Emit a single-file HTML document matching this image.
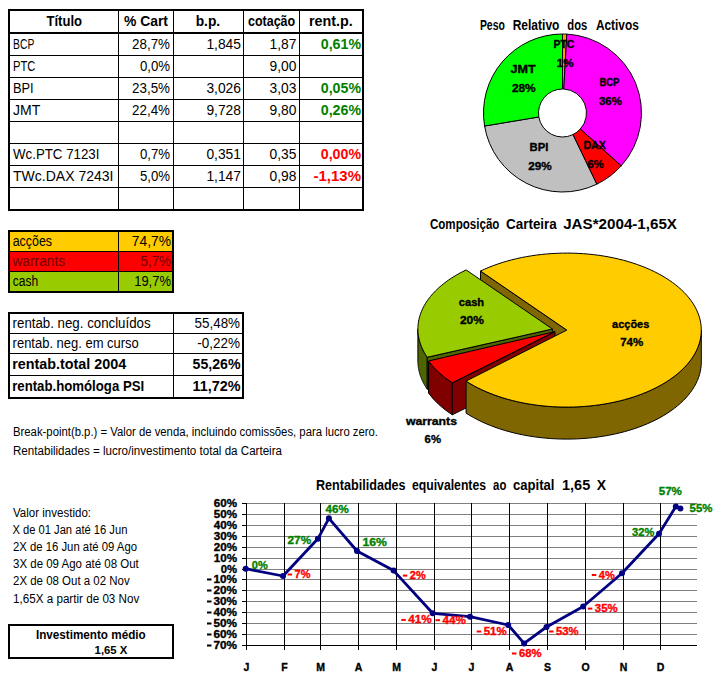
<!DOCTYPE html>
<html><head><meta charset="utf-8"><title>Carteira</title>
<style>
html,body{margin:0;padding:0;background:#fff;}
body{width:725px;height:677px;overflow:hidden;font-family:"Liberation Sans",sans-serif;}
svg{display:block;font-family:"Liberation Sans",sans-serif;}
</style></head><body>
<svg width="725" height="677" viewBox="0 0 725 677">
<rect width="725" height="677" fill="#fff"/>
<g shape-rendering="crispEdges">
<rect x="8" y="9" width="356" height="2" fill="#000"/>
<rect x="8" y="209" width="356" height="2" fill="#000"/>
<rect x="8" y="9" width="2" height="202" fill="#000"/>
<rect x="362" y="9" width="2" height="202" fill="#000"/>
<rect x="8" y="32" width="356" height="2" fill="#000"/>
<rect x="8" y="55" width="356" height="1" fill="#000"/>
<rect x="8" y="77" width="356" height="1" fill="#000"/>
<rect x="8" y="99" width="356" height="1" fill="#000"/>
<rect x="8" y="121" width="356" height="1" fill="#000"/>
<rect x="8" y="143" width="356" height="1" fill="#000"/>
<rect x="8" y="165" width="356" height="1" fill="#000"/>
<rect x="8" y="187" width="356" height="1" fill="#000"/>
<rect x="118" y="9" width="1" height="202" fill="#000"/>
<rect x="173" y="9" width="1" height="202" fill="#000"/>
<rect x="243" y="9" width="1" height="202" fill="#000"/>
<rect x="299" y="9" width="1" height="202" fill="#000"/>
</g>
<text x="46.5" y="26" font-size="14" font-weight="bold" textLength="35.5" lengthAdjust="spacingAndGlyphs">Título</text>
<text x="124" y="26" font-size="14" font-weight="bold" textLength="44" lengthAdjust="spacingAndGlyphs">% Cart</text>
<text x="195.7" y="26" font-size="14" font-weight="bold" textLength="24.5" lengthAdjust="spacingAndGlyphs">b.p.</text>
<text x="248" y="26" font-size="14" font-weight="bold" textLength="47.2" lengthAdjust="spacingAndGlyphs">cotação</text>
<text x="309" y="26" font-size="14" font-weight="bold" textLength="43.8" lengthAdjust="spacingAndGlyphs">rent.p.</text>
<text x="13" y="49" font-size="14" textLength="21.3" lengthAdjust="spacingAndGlyphs">BCP</text>
<text x="170" y="49" font-size="14" text-anchor="end" textLength="37.9" lengthAdjust="spacingAndGlyphs">28,7%</text>
<text x="241" y="49" font-size="14" text-anchor="end" textLength="34.6" lengthAdjust="spacingAndGlyphs">1,845</text>
<text x="296.5" y="49" font-size="14" text-anchor="end" textLength="26.9" lengthAdjust="spacingAndGlyphs">1,87</text>
<text x="361" y="49" font-size="14" font-weight="bold" text-anchor="end" textLength="40.2" lengthAdjust="spacingAndGlyphs" fill="#008000">0,61%</text>
<text x="13" y="71" font-size="14" textLength="22.4" lengthAdjust="spacingAndGlyphs">PTC</text>
<text x="170" y="71" font-size="14" text-anchor="end" textLength="30.1" lengthAdjust="spacingAndGlyphs">0,0%</text>
<text x="296.5" y="71" font-size="14" text-anchor="end" textLength="26.9" lengthAdjust="spacingAndGlyphs">9,00</text>
<text x="13" y="93" font-size="14" textLength="20.7" lengthAdjust="spacingAndGlyphs">BPI</text>
<text x="170" y="93" font-size="14" text-anchor="end" textLength="37.9" lengthAdjust="spacingAndGlyphs">23,5%</text>
<text x="241" y="93" font-size="14" text-anchor="end" textLength="34.6" lengthAdjust="spacingAndGlyphs">3,026</text>
<text x="296.5" y="93" font-size="14" text-anchor="end" textLength="26.9" lengthAdjust="spacingAndGlyphs">3,03</text>
<text x="361" y="93" font-size="14" font-weight="bold" text-anchor="end" textLength="40.2" lengthAdjust="spacingAndGlyphs" fill="#008000">0,05%</text>
<text x="13" y="115" font-size="14" textLength="27.3" lengthAdjust="spacingAndGlyphs">JMT</text>
<text x="170" y="115" font-size="14" text-anchor="end" textLength="37.9" lengthAdjust="spacingAndGlyphs">22,4%</text>
<text x="241" y="115" font-size="14" text-anchor="end" textLength="34.6" lengthAdjust="spacingAndGlyphs">9,728</text>
<text x="296.5" y="115" font-size="14" text-anchor="end" textLength="26.9" lengthAdjust="spacingAndGlyphs">9,80</text>
<text x="361" y="115" font-size="14" font-weight="bold" text-anchor="end" textLength="40.2" lengthAdjust="spacingAndGlyphs" fill="#008000">0,26%</text>
<text x="13" y="159" font-size="14" textLength="86.4" lengthAdjust="spacingAndGlyphs">Wc.PTC 7123I</text>
<text x="170" y="159" font-size="14" text-anchor="end" textLength="30.1" lengthAdjust="spacingAndGlyphs">0,7%</text>
<text x="241" y="159" font-size="14" text-anchor="end" textLength="34.6" lengthAdjust="spacingAndGlyphs">0,351</text>
<text x="296.5" y="159" font-size="14" text-anchor="end" textLength="26.9" lengthAdjust="spacingAndGlyphs">0,35</text>
<text x="361" y="159" font-size="14" font-weight="bold" text-anchor="end" textLength="40.2" lengthAdjust="spacingAndGlyphs" fill="#ff0000">0,00%</text>
<text x="13" y="181" font-size="14" textLength="100.5" lengthAdjust="spacingAndGlyphs">TWc.DAX 7243I</text>
<text x="170" y="181" font-size="14" text-anchor="end" textLength="30.1" lengthAdjust="spacingAndGlyphs">5,0%</text>
<text x="241" y="181" font-size="14" text-anchor="end" textLength="34.6" lengthAdjust="spacingAndGlyphs">1,147</text>
<text x="296.5" y="181" font-size="14" text-anchor="end" textLength="26.9" lengthAdjust="spacingAndGlyphs">0,98</text>
<text x="361" y="181" font-size="14" font-weight="bold" text-anchor="end" textLength="47.6" lengthAdjust="spacingAndGlyphs" fill="#ff0000">-1,13%</text>
<g shape-rendering="crispEdges">
<rect x="8" y="230" width="166" height="63" fill="#000"/>
<rect x="10" y="232" width="108" height="19" fill="#ffcc00"/>
<rect x="119" y="232" width="53" height="19" fill="#ffcc00"/>
<rect x="10" y="252" width="108" height="19" fill="#ff0000"/>
<rect x="119" y="252" width="53" height="19" fill="#ff0000"/>
<rect x="10" y="272" width="108" height="19" fill="#99cc00"/>
<rect x="119" y="272" width="53" height="19" fill="#99cc00"/>
</g>
<text x="12.7" y="246" font-size="14" textLength="39.4" lengthAdjust="spacingAndGlyphs">acções</text>
<text x="12.4" y="266" font-size="14" textLength="52.8" lengthAdjust="spacingAndGlyphs" fill="#700000">warrants</text>
<text x="12.7" y="286" font-size="14" textLength="25.5" lengthAdjust="spacingAndGlyphs">cash</text>
<text x="171" y="246" font-size="14" text-anchor="end" textLength="39.2" lengthAdjust="spacingAndGlyphs">74,7%</text>
<text x="171" y="266" font-size="14" text-anchor="end" textLength="30.5" lengthAdjust="spacingAndGlyphs" fill="#700000">5,7%</text>
<text x="171" y="286" font-size="14" text-anchor="end" textLength="36.8" lengthAdjust="spacingAndGlyphs">19,7%</text>
<g shape-rendering="crispEdges">
<rect x="8" y="312" width="236" height="2" fill="#000"/>
<rect x="8" y="397" width="236" height="2" fill="#000"/>
<rect x="8" y="312" width="2" height="87" fill="#000"/>
<rect x="242" y="312" width="2" height="87" fill="#000"/>
<rect x="8" y="333" width="236" height="1" fill="#000"/>
<rect x="8" y="353" width="236" height="1" fill="#000"/>
<rect x="8" y="375" width="236" height="1" fill="#000"/>
<rect x="173" y="312" width="1" height="87" fill="#000"/>
</g>
<text x="12.6" y="328" font-size="14" textLength="138" lengthAdjust="spacingAndGlyphs">rentab. neg. concluídos</text>
<text x="12.6" y="348" font-size="14" textLength="126.2" lengthAdjust="spacingAndGlyphs">rentab. neg. em curso</text>
<text x="12.2" y="369" font-size="14" font-weight="bold" textLength="114" lengthAdjust="spacingAndGlyphs">rentab.total 2004</text>
<text x="12.2" y="391" font-size="14" font-weight="bold" textLength="132" lengthAdjust="spacingAndGlyphs">rentab.homóloga PSI</text>
<text x="240" y="328" font-size="14" text-anchor="end" textLength="45.4" lengthAdjust="spacingAndGlyphs">55,48%</text>
<text x="240" y="348" font-size="14" text-anchor="end" textLength="42.7" lengthAdjust="spacingAndGlyphs">-0,22%</text>
<text x="240.5" y="369" font-size="14" font-weight="bold" text-anchor="end" textLength="47.9" lengthAdjust="spacingAndGlyphs">55,26%</text>
<text x="240.5" y="391" font-size="14" font-weight="bold" text-anchor="end" textLength="47.9" lengthAdjust="spacingAndGlyphs">11,72%</text>
<text x="13" y="436" font-size="12" textLength="365" lengthAdjust="spacingAndGlyphs">Break-point(b.p.) = Valor de venda, incluindo comissões, para lucro zero.</text>
<text x="13" y="455" font-size="12" textLength="269" lengthAdjust="spacingAndGlyphs">Rentabilidades = lucro/investimento total da Carteira</text>
<text x="13" y="517.0" font-size="12" textLength="78" lengthAdjust="spacingAndGlyphs">Valor investido:</text>
<text x="12.4" y="534.1" font-size="12" textLength="115" lengthAdjust="spacingAndGlyphs">X de 01 Jan até 16 Jun</text>
<text x="13" y="551.2" font-size="12" textLength="124" lengthAdjust="spacingAndGlyphs">2X de 16 Jun até 09 Ago</text>
<text x="13" y="568.3" font-size="12" textLength="125.8" lengthAdjust="spacingAndGlyphs">3X de 09 Ago até 08 Out</text>
<text x="13" y="585.4" font-size="12" textLength="116.7" lengthAdjust="spacingAndGlyphs">2X de 08 Out a 02 Nov</text>
<text x="13" y="602.5" font-size="12" textLength="126.3" lengthAdjust="spacingAndGlyphs">1,65X a partir de 03 Nov</text>
<g shape-rendering="crispEdges">
<rect x="8" y="624" width="166" height="2" fill="#000"/>
<rect x="8" y="657" width="166" height="2" fill="#000"/>
<rect x="8" y="624" width="2" height="35" fill="#000"/>
<rect x="172" y="624" width="2" height="35" fill="#000"/>
</g>
<text x="35.9" y="639" font-size="12" font-weight="bold" textLength="109.8" lengthAdjust="spacingAndGlyphs">Investimento médio</text>
<text x="94.6" y="654" font-size="11" font-weight="bold" textLength="32.8" lengthAdjust="spacingAndGlyphs">1,65 X</text>
<text x="479.9" y="29.6" font-size="14" font-weight="bold" textLength="24.9" lengthAdjust="spacingAndGlyphs">Peso</text>
<text x="512.7" y="29.6" font-size="14" font-weight="bold" textLength="46.7" lengthAdjust="spacingAndGlyphs">Relativo</text>
<text x="567.3" y="29.6" font-size="14" font-weight="bold" textLength="19.9" lengthAdjust="spacingAndGlyphs">dos</text>
<text x="595.9" y="29.6" font-size="14" font-weight="bold" textLength="42.9" lengthAdjust="spacingAndGlyphs">Activos</text>
<g stroke="#000" stroke-width="1" stroke-linejoin="round">
<path d="M562.50,34.00 A79,79 0 0 1 566.77,34.12 L563.80,89.04 A24,24 0 0 0 562.50,89.00 Z" fill="#ff9900"/>
<path d="M566.77,34.12 A79,79 0 0 1 621.21,165.86 L580.34,129.06 A24,24 0 0 0 563.80,89.04 Z" fill="#ff00ff"/>
<path d="M621.21,165.86 A79,79 0 0 1 596.76,184.19 L572.91,134.63 A24,24 0 0 0 580.34,129.06 Z" fill="#ff0000"/>
<path d="M596.76,184.19 A79,79 0 0 1 484.58,126.04 L538.83,116.96 A24,24 0 0 0 572.91,134.63 Z" fill="#c0c0c0"/>
<path d="M484.58,126.04 A79,79 0 0 1 562.50,34.00 L562.50,89.00 A24,24 0 0 0 538.83,116.96 Z" fill="#00ff00"/>
</g>
<text x="553.4" y="48" font-size="11" font-weight="bold" textLength="21.0" lengthAdjust="spacingAndGlyphs" stroke="#000" stroke-width="0.35">PTC</text>
<text x="556.8" y="67" font-size="11" font-weight="bold" textLength="16.8" lengthAdjust="spacingAndGlyphs" stroke="#000" stroke-width="0.35">1%</text>
<text x="599.4" y="85.8" font-size="11" font-weight="bold" textLength="19.9" lengthAdjust="spacingAndGlyphs" stroke="#000" stroke-width="0.35">BCP</text>
<text x="598.9" y="104.8" font-size="11" font-weight="bold" textLength="23.0" lengthAdjust="spacingAndGlyphs" stroke="#000" stroke-width="0.35">36%</text>
<text x="510.5" y="73.2" font-size="11" font-weight="bold" textLength="25.2" lengthAdjust="spacingAndGlyphs" stroke="#000" stroke-width="0.35">JMT</text>
<text x="511.9" y="92" font-size="11" font-weight="bold" textLength="23.8" lengthAdjust="spacingAndGlyphs" stroke="#000" stroke-width="0.35">28%</text>
<text x="529.6" y="150.9" font-size="11" font-weight="bold" textLength="18.8" lengthAdjust="spacingAndGlyphs" stroke="#000" stroke-width="0.35">BPI</text>
<text x="528.2" y="170" font-size="11" font-weight="bold" textLength="23.5" lengthAdjust="spacingAndGlyphs" stroke="#000" stroke-width="0.35">29%</text>
<text x="583.4" y="149.4" font-size="11" font-weight="bold" textLength="22.5" lengthAdjust="spacingAndGlyphs" stroke="#000" stroke-width="0.35">DAX</text>
<text x="587.6" y="168" font-size="11" font-weight="bold" textLength="16.3" lengthAdjust="spacingAndGlyphs" stroke="#000" stroke-width="0.35">6%</text>
<text x="429.9" y="228.9" font-size="14" font-weight="bold" textLength="69.5" lengthAdjust="spacingAndGlyphs">Composição</text>
<text x="506" y="228.9" font-size="14" font-weight="bold" textLength="50.8" lengthAdjust="spacingAndGlyphs">Carteira</text>
<text x="563.2" y="228.9" font-size="14" font-weight="bold" textLength="113.8" lengthAdjust="spacingAndGlyphs">JAS*2004-1,65X</text>
<g stroke="#000" stroke-width="1" stroke-linejoin="round">
<polygon points="566.80,330.10 480.53,271.03 480.53,303.03 566.80,362.10" fill="#806600"/>
<polygon points="427.26,357.22 426.95,356.77 426.65,356.32 426.36,355.87 426.06,355.42 425.78,354.97 425.50,354.51 425.22,354.06 424.95,353.60 424.68,353.15 424.42,352.69 424.17,352.23 423.92,351.77 423.67,351.31 423.43,350.85 423.19,350.39 422.96,349.92 422.73,349.46 422.51,348.99 422.30,348.53 422.09,348.06 421.88,347.60 421.68,347.13 421.48,346.66 421.29,346.19 421.11,345.72 420.93,345.25 420.75,344.78 420.58,344.31 420.42,343.84 420.26,343.36 420.11,342.89 419.96,342.42 419.81,341.94 419.67,341.47 419.54,340.99 419.41,340.51 419.29,340.04 419.17,339.56 419.06,339.08 418.95,338.61 418.85,338.13 418.75,337.65 418.66,337.17 418.57,336.69 418.49,336.21 418.42,335.73 418.34,335.25 418.28,334.77 418.22,334.29 418.16,333.81 418.11,333.33 418.07,332.85 418.03,332.37 417.99,331.89 417.97,331.41 417.94,330.93 417.92,330.44 417.91,329.96 417.90,329.48 417.90,329.00 417.90,361.00 417.90,361.48 417.91,361.96 417.92,362.44 417.94,362.93 417.97,363.41 417.99,363.89 418.03,364.37 418.07,364.85 418.11,365.33 418.16,365.81 418.22,366.29 418.28,366.77 418.34,367.25 418.42,367.73 418.49,368.21 418.57,368.69 418.66,369.17 418.75,369.65 418.85,370.13 418.95,370.61 419.06,371.08 419.17,371.56 419.29,372.04 419.41,372.51 419.54,372.99 419.67,373.47 419.81,373.94 419.96,374.42 420.11,374.89 420.26,375.36 420.42,375.84 420.58,376.31 420.75,376.78 420.93,377.25 421.11,377.72 421.29,378.19 421.48,378.66 421.68,379.13 421.88,379.60 422.09,380.06 422.30,380.53 422.51,380.99 422.73,381.46 422.96,381.92 423.19,382.39 423.43,382.85 423.67,383.31 423.92,383.77 424.17,384.23 424.42,384.69 424.68,385.15 424.95,385.60 425.22,386.06 425.50,386.51 425.78,386.97 426.06,387.42 426.36,387.87 426.65,388.32 426.95,388.77 427.26,389.22" fill="#4d6600"/>
<polygon points="552.40,329.00 427.26,357.22 427.26,389.22 552.40,361.00" fill="#4d6600"/>
<polygon points="552.40,329.00 427.26,357.22 426.26,355.72 425.31,354.21 424.42,352.69 423.59,351.16 422.81,349.62 422.09,348.07 421.43,346.51 420.82,344.95 420.26,343.38 419.77,341.80 419.33,340.21 418.95,338.62 418.63,337.03 418.37,335.43 418.17,333.83 418.02,332.23 417.93,330.63 417.90,329.03 417.93,327.42 418.01,325.82 418.16,324.22 418.36,322.62 418.62,321.02 418.94,319.43 419.32,317.84 419.75,316.26 420.25,314.68 420.80,313.10 421.40,311.54 422.07,309.98 422.79,308.43 423.56,306.89 424.40,305.36 425.28,303.84 426.23,302.33 427.22,300.83 428.28,299.34 429.38,297.87 430.54,296.41 431.75,294.96 433.02,293.53 434.33,292.12 435.70,290.72 437.12,289.33 438.59,287.97 440.10,286.62 441.67,285.29 443.28,283.98 444.95,282.69 446.65,281.42 448.41,280.17 450.21,278.94 452.05,277.73 453.94,276.55 455.87,275.38 457.84,274.24 459.85,273.13 461.90,272.04 463.99,270.97 466.13,269.93" fill="#99cc00"/>
<path d="M452.3,382.8 A134.5,77 0 0 1 428.5,361.0 L428.5,393.0 A134.5,77 0 0 0 452.3,414.8 Z" fill="#800000"/>
<polygon points="555.00,331.60 452.30,382.80 452.30,414.80 555.00,363.60" fill="#800000"/>
<path d="M555,331.6 L452.3,382.8 A134.5,77 0 0 1 428.5,361.0 Z" fill="#ff0000"/>
<polygon points="701.30,330.10 701.19,333.20 700.86,336.30 700.32,339.38 699.56,342.46 698.58,345.51 697.39,348.53 695.99,351.53 694.37,354.49 692.55,357.41 690.53,360.29 688.31,363.12 685.89,365.89 683.27,368.61 680.47,371.26 677.48,373.85 674.31,376.37 670.97,378.81 667.46,381.17 663.78,383.45 659.95,385.64 655.97,387.75 651.84,389.76 647.57,391.67 643.17,393.48 638.65,395.19 634.02,396.80 629.27,398.29 624.42,399.68 619.48,400.95 614.45,402.11 609.35,403.15 604.17,404.07 598.94,404.87 593.65,405.55 588.32,406.11 582.96,406.54 577.57,406.85 572.16,407.04 566.74,407.10 561.32,407.04 555.92,406.85 550.53,406.53 545.16,406.10 539.83,405.54 534.55,404.85 529.31,404.05 524.14,403.12 519.04,402.08 514.01,400.92 509.07,399.65 504.23,398.26 499.48,396.76 494.85,395.16 490.33,393.44 485.93,391.63 481.67,389.71 477.55,387.70 473.57,385.60 469.74,383.40 466.07,381.12 466.07,413.12 469.74,415.40 473.57,417.60 477.55,419.70 481.67,421.71 485.93,423.63 490.33,425.44 494.85,427.16 499.48,428.76 504.23,430.26 509.07,431.65 514.01,432.92 519.04,434.08 524.14,435.12 529.31,436.05 534.55,436.85 539.83,437.54 545.16,438.10 550.53,438.53 555.92,438.85 561.32,439.04 566.74,439.10 572.16,439.04 577.57,438.85 582.96,438.54 588.32,438.11 593.65,437.55 598.94,436.87 604.17,436.07 609.35,435.15 614.45,434.11 619.48,432.95 624.42,431.68 629.27,430.29 634.02,428.80 638.65,427.19 643.17,425.48 647.57,423.67 651.84,421.76 655.97,419.75 659.95,417.64 663.78,415.45 667.46,413.17 670.97,410.81 674.31,408.37 677.48,405.85 680.47,403.26 683.27,400.61 685.89,397.89 688.31,395.12 690.53,392.29 692.55,389.41 694.37,386.49 695.99,383.53 697.39,380.53 698.58,377.51 699.56,374.46 700.32,371.38 700.86,368.30 701.19,365.20 701.30,362.10" fill="#806600"/>
<polygon points="566.80,330.10 480.53,271.03 484.62,269.15 488.84,267.36 493.17,265.66 497.62,264.07 502.18,262.57 506.83,261.18 511.57,259.89 516.40,258.71 521.31,257.64 526.28,256.68 531.32,255.83 536.41,255.09 541.54,254.47 546.72,253.96 551.92,253.57 557.15,253.30 562.40,253.14 567.65,253.10 572.89,253.18 578.13,253.37 583.35,253.69 588.55,254.11 593.71,254.66 598.84,255.32 603.91,256.09 608.93,256.97 613.88,257.97 618.76,259.08 623.56,260.29 628.28,261.61 632.90,263.04 637.42,264.57 641.84,266.20 646.14,267.92 650.31,269.74 654.36,271.65 658.28,273.65 662.06,275.74 665.69,277.91 669.18,280.16 672.50,282.49 675.67,284.88 678.67,287.35 681.50,289.88 684.15,292.48 686.63,295.13 688.92,297.83 691.03,300.58 692.94,303.38 694.67,306.22 696.20,309.10 697.53,312.00 698.67,314.94 699.60,317.90 700.33,320.87 700.86,323.86 701.18,326.86 701.30,329.87 701.21,332.87 700.92,335.87 700.43,338.87 699.73,341.84 698.82,344.81 697.72,347.74 696.42,350.66 694.92,353.54 693.22,356.38 691.34,359.19 689.26,361.95 686.99,364.66 684.55,367.32 681.92,369.92 679.12,372.46 676.14,374.94 673.00,377.35 669.70,379.68 666.24,381.95 662.63,384.13 658.88,386.23 654.98,388.24 650.95,390.17 646.79,392.00 642.51,393.74 638.11,395.39 633.61,396.93 629.00,398.37 624.30,399.71 619.51,400.94 614.64,402.06 609.70,403.08 604.69,403.98 599.63,404.77 594.51,405.45 589.35,406.01 584.16,406.46 578.94,406.79 573.71,407.00 568.46,407.09 563.21,407.07 557.96,406.93 552.73,406.68 547.52,406.31 542.34,405.82 537.20,405.21 532.10,404.49 527.06,403.66 522.07,402.72 517.16,401.66 512.32,400.50 507.56,399.23 502.89,397.85 498.32,396.37 493.85,394.79 489.50,393.11 485.26,391.34 481.15,389.47 477.17,387.51 473.32,385.46 469.62,383.33 466.07,381.12" fill="#ffcc00"/>
</g>
<text x="458.8" y="306" font-size="11" font-weight="bold" textLength="25.3" lengthAdjust="spacingAndGlyphs" stroke="#000" stroke-width="0.35">cash</text>
<text x="459.9" y="323.8" font-size="11" font-weight="bold" textLength="24.0" lengthAdjust="spacingAndGlyphs" stroke="#000" stroke-width="0.35">20%</text>
<text x="612.1" y="327.8" font-size="11" font-weight="bold" textLength="37.2" lengthAdjust="spacingAndGlyphs" stroke="#000" stroke-width="0.35">acções</text>
<text x="620.2" y="345.8" font-size="11" font-weight="bold" textLength="23.0" lengthAdjust="spacingAndGlyphs" stroke="#000" stroke-width="0.35">74%</text>
<text x="405.9" y="424.5" font-size="11" font-weight="bold" textLength="51.1" lengthAdjust="spacingAndGlyphs" stroke="#000" stroke-width="0.35">warrants</text>
<text x="424.6" y="442.5" font-size="11" font-weight="bold" textLength="16.4" lengthAdjust="spacingAndGlyphs" stroke="#000" stroke-width="0.35">6%</text>
<text x="316" y="489.7" font-size="14" font-weight="bold" textLength="89.6" lengthAdjust="spacingAndGlyphs">Rentabilidades</text>
<text x="412" y="489.7" font-size="14" font-weight="bold" textLength="74" lengthAdjust="spacingAndGlyphs">equivalentes</text>
<text x="493.1" y="489.7" font-size="14" font-weight="bold" textLength="13.2" lengthAdjust="spacingAndGlyphs">ao</text>
<text x="513" y="489.7" font-size="14" font-weight="bold" textLength="41.5" lengthAdjust="spacingAndGlyphs">capital</text>
<text x="562" y="489.7" font-size="14" font-weight="bold" textLength="28.2" lengthAdjust="spacingAndGlyphs">1,65</text>
<text x="596.8" y="489.7" font-size="14" font-weight="bold" textLength="9.3" lengthAdjust="spacingAndGlyphs">X</text>
<g shape-rendering="crispEdges">
<rect x="246" y="503" width="451" height="1" fill="#808080"/>
<rect x="242" y="503" width="4" height="1" fill="#000"/>
<rect x="246" y="514" width="451" height="1" fill="#808080"/>
<rect x="242" y="514" width="4" height="1" fill="#000"/>
<rect x="246" y="525" width="451" height="1" fill="#808080"/>
<rect x="242" y="525" width="4" height="1" fill="#000"/>
<rect x="246" y="536" width="451" height="1" fill="#808080"/>
<rect x="242" y="536" width="4" height="1" fill="#000"/>
<rect x="246" y="547" width="451" height="1" fill="#808080"/>
<rect x="242" y="547" width="4" height="1" fill="#000"/>
<rect x="246" y="558" width="451" height="1" fill="#808080"/>
<rect x="242" y="558" width="4" height="1" fill="#000"/>
<rect x="246" y="569" width="451" height="1" fill="#808080"/>
<rect x="242" y="569" width="4" height="1" fill="#000"/>
<rect x="246" y="579" width="451" height="1" fill="#808080"/>
<rect x="242" y="579" width="4" height="1" fill="#000"/>
<rect x="246" y="590" width="451" height="1" fill="#808080"/>
<rect x="242" y="590" width="4" height="1" fill="#000"/>
<rect x="246" y="601" width="451" height="1" fill="#808080"/>
<rect x="242" y="601" width="4" height="1" fill="#000"/>
<rect x="246" y="612" width="451" height="1" fill="#808080"/>
<rect x="242" y="612" width="4" height="1" fill="#000"/>
<rect x="246" y="623" width="451" height="1" fill="#808080"/>
<rect x="242" y="623" width="4" height="1" fill="#000"/>
<rect x="246" y="634" width="451" height="1" fill="#808080"/>
<rect x="242" y="634" width="4" height="1" fill="#000"/>
<rect x="242" y="645" width="4" height="1" fill="#000"/>
<rect x="246" y="645" width="451" height="1" fill="#000"/>
<rect x="246" y="503" width="1" height="147" fill="#000"/>
<rect x="284" y="503" width="1" height="147" fill="#000"/>
<rect x="320" y="503" width="1" height="147" fill="#000"/>
<rect x="358" y="503" width="1" height="147" fill="#000"/>
<rect x="396" y="503" width="1" height="147" fill="#000"/>
<rect x="434" y="503" width="1" height="147" fill="#000"/>
<rect x="471" y="503" width="1" height="147" fill="#000"/>
<rect x="509" y="503" width="1" height="147" fill="#000"/>
<rect x="547" y="503" width="1" height="147" fill="#000"/>
<rect x="585" y="503" width="1" height="147" fill="#000"/>
<rect x="623" y="503" width="1" height="147" fill="#000"/>
<rect x="660" y="503" width="1" height="147" fill="#000"/>
</g>
<text x="237" y="507" font-size="10.5" font-weight="bold" text-anchor="end" textLength="23.2" lengthAdjust="spacingAndGlyphs" stroke="#000" stroke-width="0.35">60%</text>
<text x="237" y="518" font-size="10.5" font-weight="bold" text-anchor="end" textLength="23.2" lengthAdjust="spacingAndGlyphs" stroke="#000" stroke-width="0.35">50%</text>
<text x="237" y="529" font-size="10.5" font-weight="bold" text-anchor="end" textLength="23.2" lengthAdjust="spacingAndGlyphs" stroke="#000" stroke-width="0.35">40%</text>
<text x="237" y="540" font-size="10.5" font-weight="bold" text-anchor="end" textLength="23.2" lengthAdjust="spacingAndGlyphs" stroke="#000" stroke-width="0.35">30%</text>
<text x="237" y="551" font-size="10.5" font-weight="bold" text-anchor="end" textLength="23.2" lengthAdjust="spacingAndGlyphs" stroke="#000" stroke-width="0.35">20%</text>
<text x="237" y="562" font-size="10.5" font-weight="bold" text-anchor="end" textLength="23.2" lengthAdjust="spacingAndGlyphs" stroke="#000" stroke-width="0.35">10%</text>
<text x="237" y="573" font-size="10.5" font-weight="bold" text-anchor="end" textLength="16.3" lengthAdjust="spacingAndGlyphs" stroke="#000" stroke-width="0.35">0%</text>
<text x="237" y="583" font-size="10.5" font-weight="bold" text-anchor="end" textLength="23.5" lengthAdjust="spacingAndGlyphs" stroke="#000" stroke-width="0.35">10%</text>
<rect x="207" y="578.5" width="4.5" height="2" fill="#000"/>
<text x="237" y="594" font-size="10.5" font-weight="bold" text-anchor="end" textLength="23.5" lengthAdjust="spacingAndGlyphs" stroke="#000" stroke-width="0.35">20%</text>
<rect x="207" y="589.5" width="4.5" height="2" fill="#000"/>
<text x="237" y="605" font-size="10.5" font-weight="bold" text-anchor="end" textLength="23.5" lengthAdjust="spacingAndGlyphs" stroke="#000" stroke-width="0.35">30%</text>
<rect x="207" y="600.5" width="4.5" height="2" fill="#000"/>
<text x="237" y="616" font-size="10.5" font-weight="bold" text-anchor="end" textLength="23.5" lengthAdjust="spacingAndGlyphs" stroke="#000" stroke-width="0.35">40%</text>
<rect x="207" y="611.5" width="4.5" height="2" fill="#000"/>
<text x="237" y="627" font-size="10.5" font-weight="bold" text-anchor="end" textLength="23.5" lengthAdjust="spacingAndGlyphs" stroke="#000" stroke-width="0.35">50%</text>
<rect x="207" y="622.5" width="4.5" height="2" fill="#000"/>
<text x="237" y="638" font-size="10.5" font-weight="bold" text-anchor="end" textLength="23.5" lengthAdjust="spacingAndGlyphs" stroke="#000" stroke-width="0.35">60%</text>
<rect x="207" y="633.5" width="4.5" height="2" fill="#000"/>
<text x="237" y="649" font-size="10.5" font-weight="bold" text-anchor="end" textLength="23.5" lengthAdjust="spacingAndGlyphs" stroke="#000" stroke-width="0.35">70%</text>
<rect x="207" y="644.5" width="4.5" height="2" fill="#000"/>
<text x="246.5" y="671" font-size="10.5" font-weight="bold" text-anchor="middle" stroke="#000" stroke-width="0.35">J</text>
<text x="284.5" y="671" font-size="10.5" font-weight="bold" text-anchor="middle" stroke="#000" stroke-width="0.35">F</text>
<text x="320.5" y="671" font-size="10.5" font-weight="bold" text-anchor="middle" stroke="#000" stroke-width="0.35">M</text>
<text x="358.5" y="671" font-size="10.5" font-weight="bold" text-anchor="middle" stroke="#000" stroke-width="0.35">A</text>
<text x="396.5" y="671" font-size="10.5" font-weight="bold" text-anchor="middle" stroke="#000" stroke-width="0.35">M</text>
<text x="434.5" y="671" font-size="10.5" font-weight="bold" text-anchor="middle" stroke="#000" stroke-width="0.35">J</text>
<text x="471.5" y="671" font-size="10.5" font-weight="bold" text-anchor="middle" stroke="#000" stroke-width="0.35">J</text>
<text x="509.5" y="671" font-size="10.5" font-weight="bold" text-anchor="middle" stroke="#000" stroke-width="0.35">A</text>
<text x="547.5" y="671" font-size="10.5" font-weight="bold" text-anchor="middle" stroke="#000" stroke-width="0.35">S</text>
<text x="585.5" y="671" font-size="10.5" font-weight="bold" text-anchor="middle" stroke="#000" stroke-width="0.35">O</text>
<text x="623.5" y="671" font-size="10.5" font-weight="bold" text-anchor="middle" stroke="#000" stroke-width="0.35">N</text>
<text x="660.5" y="671" font-size="10.5" font-weight="bold" text-anchor="middle" stroke="#000" stroke-width="0.35">D</text>
<polyline points="245.70,568.70 283.00,576.00 317.90,538.80 328.90,518.30 357.00,551.00 393.60,570.60 432.70,613.30 470.00,616.70 508.20,625.00 524.10,643.40 546.50,627.00 583.20,606.50 622.00,573.20 659.00,533.80 675.80,506.60 680.40,508.40" fill="none" stroke="#000080" stroke-width="2.8" stroke-linejoin="round"/>
<circle cx="245.7" cy="568.7" r="3" fill="#000080"/>
<circle cx="283" cy="576" r="3" fill="#000080"/>
<circle cx="317.9" cy="538.8" r="3" fill="#000080"/>
<circle cx="328.9" cy="518.3" r="3" fill="#000080"/>
<circle cx="357" cy="551" r="3" fill="#000080"/>
<circle cx="393.6" cy="570.6" r="3" fill="#000080"/>
<circle cx="432.7" cy="613.3" r="3" fill="#000080"/>
<circle cx="470" cy="616.7" r="3" fill="#000080"/>
<circle cx="508.2" cy="625" r="3" fill="#000080"/>
<circle cx="524.1" cy="643.4" r="3" fill="#000080"/>
<circle cx="546.5" cy="627" r="3" fill="#000080"/>
<circle cx="583.2" cy="606.5" r="3" fill="#000080"/>
<circle cx="622" cy="573.2" r="3" fill="#000080"/>
<circle cx="659" cy="533.8" r="3" fill="#000080"/>
<circle cx="675.8" cy="506.6" r="3" fill="#000080"/>
<circle cx="680.4" cy="508.4" r="3" fill="#000080"/>
<text x="251.8" y="568.5" font-size="11" font-weight="bold" textLength="15.9" lengthAdjust="spacingAndGlyphs" fill="#008000" stroke="#008000" stroke-width="0.35">0%</text>
<rect x="287.6" y="573.5" width="4.5" height="2" fill="#ff0000"/>
<text x="294.6" y="578" font-size="11" font-weight="bold" textLength="15.9" lengthAdjust="spacingAndGlyphs" fill="#ff0000" stroke="#ff0000" stroke-width="0.35">7%</text>
<text x="287.6" y="544.3" font-size="11" font-weight="bold" textLength="23.5" lengthAdjust="spacingAndGlyphs" fill="#008000" stroke="#008000" stroke-width="0.35">27%</text>
<text x="325.5" y="512.8" font-size="11" font-weight="bold" textLength="23.2" lengthAdjust="spacingAndGlyphs" fill="#008000" stroke="#008000" stroke-width="0.35">46%</text>
<text x="362.4" y="545.8" font-size="11" font-weight="bold" textLength="24.5" lengthAdjust="spacingAndGlyphs" fill="#008000" stroke="#008000" stroke-width="0.35">16%</text>
<rect x="402.8" y="574.6" width="4.5" height="2" fill="#ff0000"/>
<text x="409.8" y="579.1" font-size="11" font-weight="bold" textLength="15.9" lengthAdjust="spacingAndGlyphs" fill="#ff0000" stroke="#ff0000" stroke-width="0.35">2%</text>
<rect x="401.3" y="618.9" width="4.5" height="2" fill="#ff0000"/>
<text x="408.3" y="623.4" font-size="11" font-weight="bold" textLength="23.5" lengthAdjust="spacingAndGlyphs" fill="#ff0000" stroke="#ff0000" stroke-width="0.35">41%</text>
<rect x="435.5" y="619.2" width="4.5" height="2" fill="#ff0000"/>
<text x="442.5" y="623.7" font-size="11" font-weight="bold" textLength="23.5" lengthAdjust="spacingAndGlyphs" fill="#ff0000" stroke="#ff0000" stroke-width="0.35">44%</text>
<rect x="476.7" y="630.5" width="4.5" height="2" fill="#ff0000"/>
<text x="483.7" y="635" font-size="11" font-weight="bold" textLength="23.0" lengthAdjust="spacingAndGlyphs" fill="#ff0000" stroke="#ff0000" stroke-width="0.35">51%</text>
<rect x="511.9" y="652.5" width="4.5" height="2" fill="#ff0000"/>
<text x="518.9" y="657" font-size="11" font-weight="bold" textLength="22.6" lengthAdjust="spacingAndGlyphs" fill="#ff0000" stroke="#ff0000" stroke-width="0.35">68%</text>
<rect x="549" y="630.5" width="4.5" height="2" fill="#ff0000"/>
<text x="556" y="635" font-size="11" font-weight="bold" textLength="22.6" lengthAdjust="spacingAndGlyphs" fill="#ff0000" stroke="#ff0000" stroke-width="0.35">53%</text>
<rect x="587.8" y="607.6" width="4.5" height="2" fill="#ff0000"/>
<text x="594.8" y="612.1" font-size="11" font-weight="bold" textLength="22.9" lengthAdjust="spacingAndGlyphs" fill="#ff0000" stroke="#ff0000" stroke-width="0.35">35%</text>
<rect x="591.8" y="574.0" width="4.5" height="2" fill="#ff0000"/>
<text x="598.8" y="578.5" font-size="11" font-weight="bold" textLength="15.9" lengthAdjust="spacingAndGlyphs" fill="#ff0000" stroke="#ff0000" stroke-width="0.35">4%</text>
<text x="632.1" y="536.3" font-size="11" font-weight="bold" textLength="22.3" lengthAdjust="spacingAndGlyphs" fill="#008000" stroke="#008000" stroke-width="0.35">32%</text>
<text x="658.7" y="495.1" font-size="11" font-weight="bold" textLength="23.2" lengthAdjust="spacingAndGlyphs" fill="#008000" stroke="#008000" stroke-width="0.35">57%</text>
<text x="689.6" y="511.9" font-size="11" font-weight="bold" textLength="22.9" lengthAdjust="spacingAndGlyphs" fill="#008000" stroke="#008000" stroke-width="0.35">55%</text>
</svg>
</body></html>
